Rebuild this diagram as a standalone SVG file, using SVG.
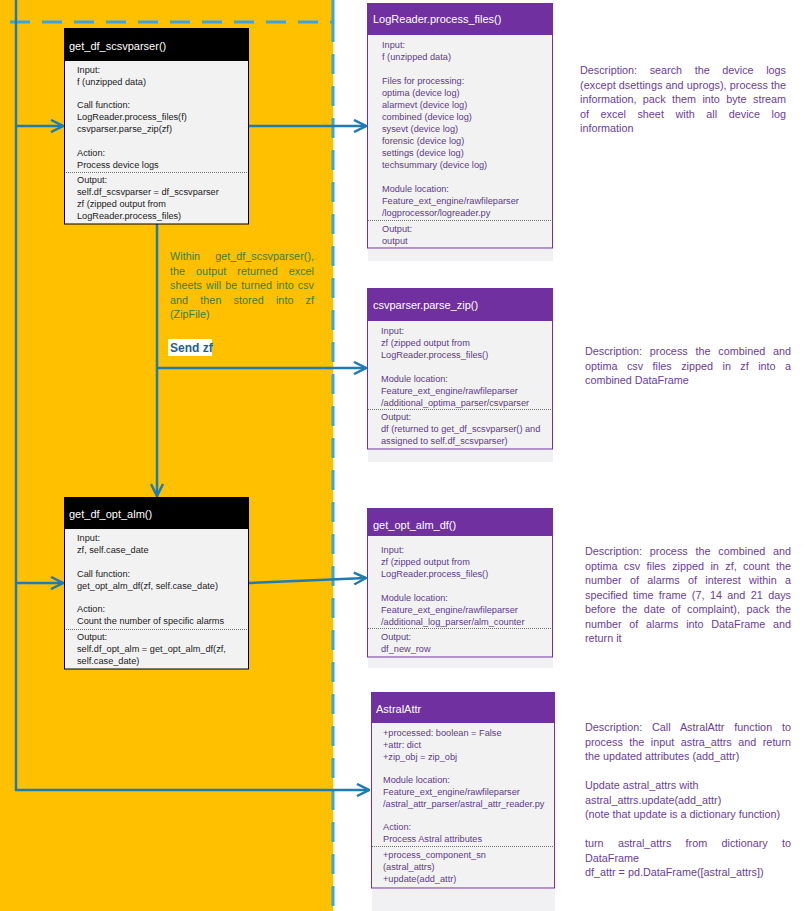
<svg xmlns="http://www.w3.org/2000/svg" width="810" height="911" viewBox="0 0 810 911">
<defs>
<style>
text{font-family:"Liberation Sans",Arial,sans-serif}
.desc{font-size:10.8px;fill:#6b3e96}
.within{font-size:10.8px;fill:#3a7f3a}
.nt{font-size:11px;fill:#ffffff}
.nb{font-size:9.2px;fill:#1a1a1a}
.pb{font-size:9.2px;fill:#5d3a8a}
.bodyk{fill:#f2f2f2;stroke:#000000;stroke-width:1}
.hdrk{fill:#000000}
.bodyp{fill:#f2f2f2;stroke:#7030a0;stroke-width:1}
.hdrp{fill:#7030a0}
.dot{stroke:#707070;stroke-width:1;stroke-dasharray:1 1;fill:none}
.conn{stroke:#1f7bb0;stroke-width:2.5;fill:none}
.dash{stroke:#35a7de;stroke-width:3;stroke-dasharray:20 12;fill:none}
.shadow{fill:#f1f1f4}
</style>
<marker id="arr" markerUnits="userSpaceOnUse" viewBox="0 0 14 14" refX="13" refY="7" markerWidth="14" markerHeight="14" orient="auto">
<path d="M1,1 L13,7 L1,13" fill="none" stroke="#1f7bb0" stroke-width="2.5"/>
</marker>
</defs>
<rect x="0" y="0" width="810" height="911" fill="#ffffff"/>
<rect x="0" y="0" width="333" height="911" fill="#ffc000"/>
<g id="frame">
<line class="dash" x1="10" y1="22" x2="333" y2="22"/>
<line x1="333" y1="0" x2="333" y2="22" stroke="#35a7de" stroke-width="3"/>
<line class="dash" x1="333" y1="22" x2="333" y2="911"/>
</g>
<g id="shadows">
<rect class="shadow" x="368" y="249" width="185" height="12"/>
<rect class="shadow" x="368" y="450" width="185" height="12"/>
<rect class="shadow" x="368" y="658" width="185" height="10"/>
<rect class="shadow" x="372" y="889" width="183" height="22"/>
</g>
<g id="connectors">
<path class="conn" d="M16,0 V790 H369" marker-end="url(#arr)"/>
<path class="conn" d="M16,126 H63" marker-end="url(#arr)"/>
<path class="conn" d="M16,583 H63" marker-end="url(#arr)"/>
<path class="conn" d="M249,126 H366" marker-end="url(#arr)"/>
<path class="conn" d="M157,224 V496" marker-end="url(#arr)"/>
<path class="conn" d="M157,368 H366" marker-end="url(#arr)"/>
<path class="conn" d="M249,583 L366,578" marker-end="url(#arr)"/>
</g>
<g id="node-get_df_scsvparser">
<rect class="bodyk" x="64.5" y="28.5" width="184" height="195.5"/>
<rect class="hdrk" x="64.5" y="28.5" width="184" height="32.5"/>
<text class="nt" x="69" y="50">get_df_scsvparser()</text>
<text class="nb" x="77" y="73">Input:</text>
<text class="nb" x="77" y="85">f (unzipped data)</text>
<text class="nb" x="77" y="108">Call function:</text>
<text class="nb" x="77" y="120">LogReader.process_files(f)</text>
<text class="nb" x="77" y="132">csvparser.parse_zip(zf)</text>
<text class="nb" x="77" y="156">Action:</text>
<text class="nb" x="77" y="168">Process device logs</text>
<line class="dot" x1="66" y1="172.5" x2="247" y2="172.5"/>
<text class="nb" x="77" y="183">Output:</text>
<text class="nb" x="77" y="195">self.df_scsvparser = df_scsvparser</text>
<text class="nb" x="77" y="207">zf (zipped output from</text>
<text class="nb" x="77" y="219">LogReader.process_files)</text>
</g>
<g id="note-within">
<text class="within" x="170" y="260" textLength="144" lengthAdjust="spacing" style="word-spacing:12px">Within get_df_scsvparser(),</text>
<text class="within" x="170" y="274.5" textLength="144" lengthAdjust="spacing" style="word-spacing:8px">the output returned excel</text>
<text class="within" x="170" y="289" textLength="144" lengthAdjust="spacing" style="word-spacing:1px">sheets will be turned into csv</text>
<text class="within" x="170" y="303.5" textLength="144" lengthAdjust="spacing" style="word-spacing:9px">and then stored into zf</text>
<text class="within" x="170" y="318">(ZipFile)</text>
</g>
<g id="label-send-zf">
<rect x="168" y="339" width="44" height="17" fill="#ffffff"/>
<text x="170" y="352" style="font-size:12px;font-weight:bold;fill:#1f5f8f">Send zf</text>
</g>
<g id="node-get_df_opt_alm">
<rect class="bodyk" x="64.5" y="497.5" width="184" height="171.5"/>
<rect class="hdrk" x="64.5" y="497.5" width="184" height="31.5"/>
<text class="nt" x="69" y="518">get_df_opt_alm()</text>
<text class="nb" x="77" y="541">Input:</text>
<text class="nb" x="77" y="553">zf, self.case_date</text>
<text class="nb" x="77" y="577">Call function:</text>
<text class="nb" x="77" y="589">get_opt_alm_df(zf, self.case_date)</text>
<text class="nb" x="77" y="612">Action:</text>
<text class="nb" x="77" y="624">Count the number of specific alarms</text>
<line class="dot" x1="66" y1="629.5" x2="247" y2="629.5"/>
<text class="nb" x="77" y="640">Output:</text>
<text class="nb" x="77" y="652">self.df_opt_alm = get_opt_alm_df(zf,</text>
<text class="nb" x="77" y="664">self.case_date)</text>
</g>
<g id="node-logreader">
<rect class="bodyp" x="367.5" y="3.5" width="185" height="244.5"/>
<rect class="hdrp" x="367.5" y="3.5" width="185" height="31.5"/>
<text class="nt" x="373" y="23">LogReader.process_files()</text>
<text class="pb" x="382" y="48">Input:</text>
<text class="pb" x="382" y="60">f (unzipped data)</text>
<text class="pb" x="382" y="84">Files for processing:</text>
<text class="pb" x="382" y="96">optima (device log)</text>
<text class="pb" x="382" y="108">alarmevt (device log)</text>
<text class="pb" x="382" y="120">combined (device log)</text>
<text class="pb" x="382" y="132">sysevt (device log)</text>
<text class="pb" x="382" y="144">forensic (device log)</text>
<text class="pb" x="382" y="156">settings (device log)</text>
<text class="pb" x="382" y="168">techsummary (device log)</text>
<text class="pb" x="382" y="192">Module location:</text>
<text class="pb" x="382" y="204">Feature_ext_engine/rawfileparser</text>
<text class="pb" x="382" y="216">/logprocessor/logreader.py</text>
<line class="dot" x1="368" y1="220.5" x2="552" y2="220.5"/>
<text class="pb" x="382" y="232">Output:</text>
<text class="pb" x="382" y="244">output</text>
</g>
<g id="node-csvparser">
<rect class="bodyp" x="367.5" y="288.5" width="185" height="160.5"/>
<rect class="hdrp" x="367.5" y="288.5" width="185" height="32.5"/>
<text class="nt" x="373" y="309">csvparser.parse_zip()</text>
<text class="pb" x="381" y="334">Input:</text>
<text class="pb" x="381" y="346">zf (zipped output from</text>
<text class="pb" x="381" y="358">LogReader.process_files()</text>
<text class="pb" x="381" y="382">Module location:</text>
<text class="pb" x="381" y="394">Feature_ext_engine/rawfileparser</text>
<text class="pb" x="381" y="406">/additional_optima_parser/csvparser</text>
<line class="dot" x1="368" y1="409.5" x2="552" y2="409.5"/>
<text class="pb" x="381" y="420">Output:</text>
<text class="pb" x="381" y="432">df (returned to get_df_scsvparser() and</text>
<text class="pb" x="381" y="444">assigned to self.df_scsvparser)</text>
</g>
<g id="node-get_opt_alm_df">
<rect class="bodyp" x="367.5" y="508.5" width="185" height="148.5"/>
<rect class="hdrp" x="367.5" y="508.5" width="185" height="27.5"/>
<text class="nt" x="373" y="529">get_opt_alm_df()</text>
<text class="pb" x="381" y="553">Input:</text>
<text class="pb" x="381" y="565">zf (zipped output from</text>
<text class="pb" x="381" y="577">LogReader.process_files()</text>
<text class="pb" x="381" y="601">Module location:</text>
<text class="pb" x="381" y="613">Feature_ext_engine/rawfileparser</text>
<text class="pb" x="381" y="625">/additional_log_parser/alm_counter</text>
<line class="dot" x1="368" y1="628.5" x2="552" y2="628.5"/>
<text class="pb" x="381" y="640">Output:</text>
<text class="pb" x="381" y="652">df_new_row</text>
</g>
<g id="node-astralattr">
<rect class="bodyp" x="371.5" y="692.5" width="183" height="195.5"/>
<rect class="hdrp" x="371.5" y="692.5" width="183" height="30.5"/>
<text class="nt" x="376" y="713">AstralAttr</text>
<text class="pb" x="383" y="736">+processed: boolean = False</text>
<text class="pb" x="383" y="748">+attr: dict</text>
<text class="pb" x="383" y="760">+zip_obj = zip_obj</text>
<text class="pb" x="383" y="783">Module location:</text>
<text class="pb" x="383" y="795">Feature_ext_engine/rawfileparser</text>
<text class="pb" x="383" y="807">/astral_attr_parser/astral_attr_reader.py</text>
<text class="pb" x="383" y="830">Action:</text>
<text class="pb" x="383" y="842">Process Astral attributes</text>
<line class="dot" x1="372" y1="846.5" x2="554" y2="846.5"/>
<text class="pb" x="383" y="858">+process_component_sn</text>
<text class="pb" x="383" y="870">(astral_attrs)</text>
<text class="pb" x="383" y="882">+update(add_attr)</text>
</g>
<g id="desc-logreader">
<text class="desc" x="580" y="74" textLength="206" lengthAdjust="spacing" style="word-spacing:9.6px">Description: search the device logs</text>
<text class="desc" x="580" y="88.5" textLength="206" lengthAdjust="spacing">(except dsettings and uprogs), process the</text>
<text class="desc" x="580" y="103" textLength="206" lengthAdjust="spacing" style="word-spacing:3.4px">information, pack them into byte stream</text>
<text class="desc" x="580" y="117.5" textLength="206" lengthAdjust="spacing" style="word-spacing:8.6px">of excel sheet with all device log</text>
<text class="desc" x="580" y="132">information</text>
</g>
<g id="desc-csvparser">
<text class="desc" x="585" y="355" textLength="206" lengthAdjust="spacing" style="word-spacing:4.8px">Description: process the combined and</text>
<text class="desc" x="585" y="369.5" textLength="206" lengthAdjust="spacing" style="word-spacing:6.4px">optima csv files zipped in zf into a</text>
<text class="desc" x="585" y="384">combined DataFrame</text>
</g>
<g id="desc-get_opt_alm_df">
<text class="desc" x="585" y="555" textLength="206" lengthAdjust="spacing" style="word-spacing:4.8px">Description: process the combined and</text>
<text class="desc" x="585" y="569.5" textLength="206" lengthAdjust="spacing" style="word-spacing:3.4px">optima csv files zipped in zf, count the</text>
<text class="desc" x="585" y="584" textLength="206" lengthAdjust="spacing" style="word-spacing:5.3px">number of alarms of interest within a</text>
<text class="desc" x="585" y="598.5" textLength="206" lengthAdjust="spacing" style="word-spacing:2.4px">specified time frame (7, 14 and 21 days</text>
<text class="desc" x="585" y="613" textLength="206" lengthAdjust="spacing" style="word-spacing:3.6px">before the date of complaint), pack the</text>
<text class="desc" x="585" y="627.5" textLength="206" lengthAdjust="spacing" style="word-spacing:4.7px">number of alarms into DataFrame and</text>
<text class="desc" x="585" y="642">return it</text>
</g>
<g id="desc-astralattr">
<text class="desc" x="585" y="731" textLength="206" lengthAdjust="spacing" style="word-spacing:6.8px">Description: Call AstralAttr function to</text>
<text class="desc" x="585" y="745.5" textLength="206" lengthAdjust="spacing" style="word-spacing:3.5px">process the input astra_attrs and return</text>
<text class="desc" x="585" y="760">the updated attributes (add_attr)</text>
<text class="desc" x="585" y="789">Update astral_attrs with</text>
<text class="desc" x="585" y="803.5">astral_attrs.update(add_attr)</text>
<text class="desc" x="585" y="818">(note that update is a dictionary function)</text>
<text class="desc" x="585" y="847" textLength="206" lengthAdjust="spacing" style="word-spacing:11.3px">turn astral_attrs from dictionary to</text>
<text class="desc" x="585" y="861.5">DataFrame</text>
<text class="desc" x="585" y="876">df_attr = pd.DataFrame([astral_attrs])</text>
</g>
</svg>
